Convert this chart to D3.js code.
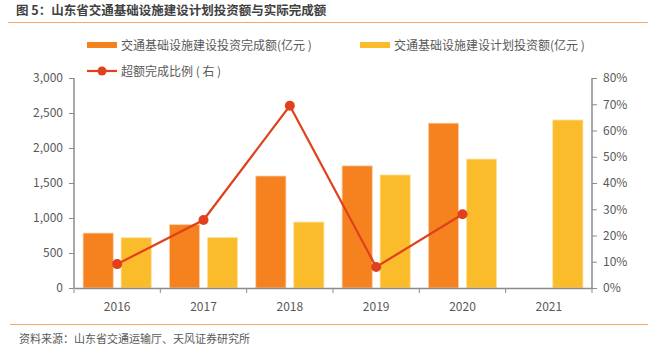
<!DOCTYPE html>
<html>
<head>
<meta charset="utf-8">
<script src="https://cdn.jsdelivr.net/npm/d3@7"></script>
<style>
  body { margin: 0; background: #fff; }
  text { font-family: "Noto Sans CJK SC", "Liberation Sans", sans-serif; }
</style>
</head>
<body>
<div id="chart"></div>
<script>
var years = ["2016", "2017", "2018", "2019", "2020", "2021"];
var completed = [785, 905, 1600, 1745, 2355, null];
var planned = [718, 722, 942, 1615, 1842, 2400];
var ratio = [9.1, 25.9, 69.4, 8.0, 28.1, null];
var leftTicks = [0, 500, 1000, 1500, 2000, 2500, 3000];
var rightTicks = [0, 10, 20, 30, 40, 50, 60, 70, 80];

var svgWidth = 648;
var svgHeight = 354;
var margin = { top: 78, right: 56, bottom: 66, left: 74 };
var chartwidth = svgWidth - margin.left - margin.right;
var chartheight = svgHeight - margin.top - margin.bottom;

var orange = "#f5821f";
var yellow = "#fbbc2c";
var red = "#e0401c";
var axisGray = "#8c8c8c";
var textGray = "#595959";

var svg = d3.select("#chart")
  .append("svg")
  .attr("width", svgWidth)
  .attr("height", svgHeight);

// title + rules
svg.append("text")
  .attr("x", 16).attr("y", 15)
  .attr("font-size", 12.5)
  .attr("font-weight", "bold")
  .attr("fill", "#404040")
  .text("图 5：山东省交通基础设施建设计划投资额与实际完成额");

svg.append("line")
  .attr("x1", 8).attr("x2", 648).attr("y1", 22.5).attr("y2", 22.5)
  .attr("stroke", "#f7a866").attr("stroke-width", 1.2);

svg.append("line")
  .attr("x1", 10).attr("x2", 648).attr("y1", 324.5).attr("y2", 324.5)
  .attr("stroke", "#f7a866").attr("stroke-width", 1.2);

svg.append("text")
  .attr("x", 19).attr("y", 343)
  .attr("font-size", 11)
  .attr("fill", textGray)
  .text("资料来源：山东省交通运输厅、天风证券研究所");

var chartGroup = svg.append("g")
  .attr("transform", `translate(${margin.left}, ${margin.top})`);

// scales
var xScale = d3.scaleBand().domain(years).range([0, chartwidth]);
var yLeft = d3.scaleLinear().domain([0, 3000]).range([chartheight, 0]);
var yRight = d3.scaleLinear().domain([0, 80]).range([chartheight, 0]);

var barW = xScale.bandwidth() * 0.35;
var barGap = xScale.bandwidth() * 0.09;

// bars
chartGroup.selectAll(".bar-c")
  .data(years.map((y, i) => ({ year: y, v: completed[i] })).filter(d => d.v != null))
  .enter()
  .append("rect")
  .attr("x", d => xScale(d.year) + xScale.bandwidth() / 2 - barGap / 2 - barW)
  .attr("y", d => yLeft(d.v))
  .attr("width", barW)
  .attr("height", d => chartheight - yLeft(d.v))
  .attr("fill", orange)
  .attr("stroke", "#fbd3b0")
  .attr("stroke-width", 0.8);

chartGroup.selectAll(".bar-p")
  .data(years.map((y, i) => ({ year: y, v: planned[i] })).filter(d => d.v != null))
  .enter()
  .append("rect")
  .attr("x", d => xScale(d.year) + xScale.bandwidth() / 2 + barGap / 2)
  .attr("y", d => yLeft(d.v))
  .attr("width", barW)
  .attr("height", d => chartheight - yLeft(d.v))
  .attr("fill", yellow)
  .attr("stroke", "#fde2a6")
  .attr("stroke-width", 0.8);

// axes
var leftAxis = d3.axisLeft(yLeft).tickValues(leftTicks).tickSize(5).tickPadding(6);
var rightAxis = d3.axisRight(yRight).tickValues(rightTicks).tickSize(5).tickPadding(6)
  .tickFormat(d => d + "%");
var bottomAxis = d3.axisBottom(xScale).tickSize(0).tickPadding(14);

function styleAxis(g) {
  g.select(".domain").attr("stroke", axisGray).attr("stroke-width", 1.5);
  g.selectAll(".tick line").attr("stroke", axisGray);
  g.selectAll(".tick text").attr("fill", textGray).attr("font-size", 12)
    .attr("font-family", "'Liberation Sans', Arial, sans-serif");
}

chartGroup.append("g").call(leftAxis).call(styleAxis)
  .select(".domain").attr("d", `M-0,${chartheight}V0`);
chartGroup.append("g").attr("transform", `translate(${chartwidth},0)`).call(rightAxis).call(styleAxis)
  .select(".domain").attr("d", `M0,${chartheight}V0`);

var xg = chartGroup.append("g").attr("transform", `translate(0, ${chartheight})`).call(bottomAxis).call(styleAxis);
xg.selectAll(".tick text").attr("dy", "0.71em");
// band boundary ticks
xg.selectAll(".bnd")
  .data(years.concat(["end"]))
  .enter()
  .append("line")
  .attr("x1", (d, i) => i * xScale.step())
  .attr("x2", (d, i) => i * xScale.step())
  .attr("y1", 0).attr("y2", 5)
  .attr("stroke", axisGray);

// ratio line
var ratioData = years.map((y, i) => ({ year: y, v: ratio[i] })).filter(d => d.v != null);
var line = d3.line()
  .x(d => xScale(d.year) + xScale.bandwidth() / 2)
  .y(d => yRight(d.v));

chartGroup.append("path")
  .datum(ratioData)
  .attr("d", line)
  .attr("fill", "none")
  .attr("stroke", red)
  .attr("stroke-width", 2.2);

chartGroup.selectAll(".dot")
  .data(ratioData)
  .enter()
  .append("circle")
  .attr("cx", d => xScale(d.year) + xScale.bandwidth() / 2)
  .attr("cy", d => yRight(d.v))
  .attr("r", 5)
  .attr("fill", red);

// legend
var legend = svg.append("g").attr("font-size", 12).attr("fill", textGray);
legend.append("rect").attr("x", 87).attr("y", 42).attr("width", 30).attr("height", 6).attr("fill", orange);
legend.append("text").attr("x", 121).attr("y", 49.5).attr("fill", textGray).text("交通基础设施建设投资完成额(亿元 )");
legend.append("rect").attr("x", 360).attr("y", 42).attr("width", 30).attr("height", 6).attr("fill", yellow);
legend.append("text").attr("x", 394).attr("y", 49.5).attr("fill", textGray).text("交通基础设施建设计划投资额(亿元 )");
legend.append("line").attr("x1", 87).attr("x2", 117).attr("y1", 71).attr("y2", 71)
  .attr("stroke", red).attr("stroke-width", 2.2);
legend.append("circle").attr("cx", 102).attr("cy", 71).attr("r", 4.5).attr("fill", red);
legend.append("text").attr("x", 121).attr("y", 75.5).attr("fill", textGray).text("超额完成比例 ( 右 )");
</script>
</body>
</html>
